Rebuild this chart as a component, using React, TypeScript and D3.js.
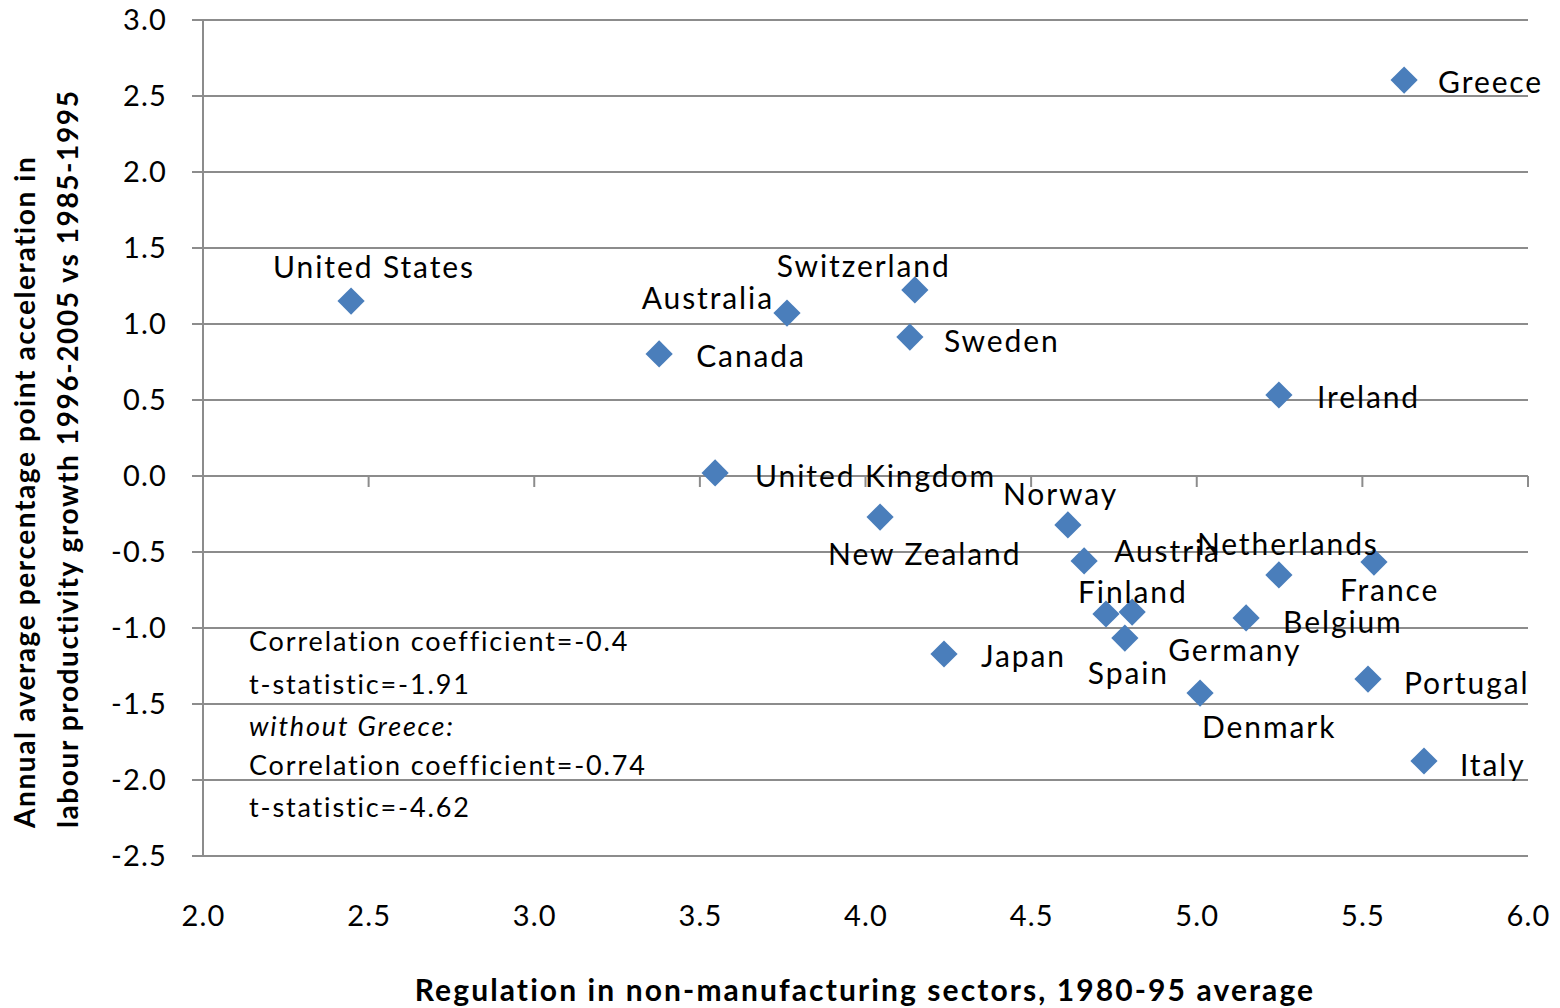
import React from "react";
import * as d3 from "d3";

const countries = [
  "Greece", "United States", "Australia", "Switzerland", "Canada", "Sweden", "Ireland",
  "United Kingdom", "New Zealand", "Norway", "Austria", "Netherlands", "France", "Finland",
  "Germany", "Spain", "Belgium", "Japan", "Denmark", "Portugal", "Italy",
];
const regulation = [
  5.626, 2.447, 3.763, 4.149, 3.377, 4.134, 5.248,
  3.546, 4.044, 4.611, 4.66, 5.248, 5.535, 4.726,
  4.805, 4.783, 5.149, 4.237, 5.01, 5.517, 5.686,
];
const acceleration = [
  2.605, 1.151, 1.072, 1.224, 0.803, 0.914, 0.533,
  0.02, -0.27, -0.322, -0.559, -0.651, -0.566, -0.908,
  -0.895, -1.066, -0.934, -1.171, -1.428, -1.336, -1.875,
];
const xTicks = [2.0, 2.5, 3.0, 3.5, 4.0, 4.5, 5.0, 5.5, 6.0];
const yTicks = [3.0, 2.5, 2.0, 1.5, 1.0, 0.5, 0.0, -0.5, -1.0, -1.5, -2.0, -2.5];
const annotationLines = [
  "Correlation coefficient=-0.4",
  "t-statistic=-1.91",
  "without Greece:",
  "Correlation coefficient=-0.74",
  "t-statistic=-4.62",
];
const xTitle = "Regulation in non-manufacturing  sectors, 1980-95 average";
const yTitleLines = [
  "Annual average percentage  point acceleration in",
  "labour productivity  growth 1996-2005 vs 1985-1995",
];

// label layout (pixel offsets from the marker), start/end anchors
const labelLayout: [number, number, string][] = [
  [34, 2, "start"], [-78, -34, "start"], [-13, -15, "end"], [-138, -23, "start"],
  [37, 3, "start"], [34, 4, "start"], [38, 3, "start"],
  [40, 4, "start"], [-52, 37, "start"], [-65, -30, "start"], [30, -9, "start"],
  [-82, -30, "start"], [-34, 28, "start"], [-28, -22, "start"],
  [36, 38, "start"], [-37, 35, "start"], [37, 5, "start"], [37, 3, "start"],
  [2, 34, "start"], [36, 4, "start"], [36, 4, "start"],
];

const W = 1560;
const H = 1008;
const FONT = "Lato, 'Open Sans', sans-serif";
const GRID = "#8c8c8c";
const BLUE = "#4A7EBB";

const locale = d3.formatLocale({
  decimal: ".",
  thousands: ",",
  grouping: [3],
  currency: ["", ""],
  minus: "-",
});

export default function App() {
  const x = d3.scaleLinear().domain([2, 6]).range([203, 1528]);
  const y = d3.scaleLinear().domain([-2.5, 3]).range([856, 20]);
  const diamond = d3.symbol().type(d3.symbolSquare).size(370)();
  const fmt = locale.format(".1f");

  return (
    <svg
      width={W}
      height={H}
      style={{ position: "absolute", left: 0, top: 0, background: "#fff", whiteSpace: "pre" }}
      fontFamily={FONT}
    >
      {/* gridlines */}
      {yTicks.map((t) => (
        <line
          key={"g" + t}
          x1={t === -2.5 ? 192 : x(2)}
          x2={x(6)}
          y1={y(t)}
          y2={y(t)}
          stroke={GRID}
          strokeWidth={2}
        />
      ))}
      {/* y axis */}
      <line x1={x(2)} x2={x(2)} y1={y(3)} y2={y(-2.5)} stroke={GRID} strokeWidth={2} />
      {yTicks.map((t) => (
        <line key={"yt" + t} x1={192} x2={x(2)} y1={y(t)} y2={y(t)} stroke={GRID} strokeWidth={2} />
      ))}
      {/* x axis at zero */}
      <line x1={192} x2={x(6)} y1={y(0)} y2={y(0)} stroke={GRID} strokeWidth={2} />
      {xTicks.map((t) => (
        <line key={"xt" + t} x1={x(t)} x2={x(t)} y1={y(0)} y2={y(0) + 11} stroke={GRID} strokeWidth={2} />
      ))}
      {/* tick labels */}
      {yTicks.map((t) => (
        <text key={"yl" + t} x={167} y={y(t)} dy="0.35em" textAnchor="end" fontSize={29} letterSpacing={1.2} fill="#000">
          {fmt(t)}
        </text>
      ))}
      {xTicks.map((t) => (
        <text key={"xl" + t} x={x(t) + 0.6} y={916} dy="0.35em" textAnchor="middle" fontSize={29} letterSpacing={1.2} fill="#000">
          {fmt(t)}
        </text>
      ))}
      {/* markers */}
      {countries.map((c, i) => (
        <path
          key={"m" + c}
          d={diamond}
          fill={BLUE}
          transform={`translate(${x(regulation[i])},${y(acceleration[i])}) rotate(45)`}
        />
      ))}
      {/* labels */}
      {countries.map((c, i) => (
        <text
          key={"l" + c}
          x={x(regulation[i]) + labelLayout[i][0]}
          y={y(acceleration[i]) + labelLayout[i][1]}
          dy="0.35em"
          textAnchor={labelLayout[i][2] as any}
          fontSize={30}
          letterSpacing={1.9}
          fill="#000"
        >
          {c}
        </text>
      ))}
      {/* annotation */}
      {annotationLines.map((s, i) => (
        <text
          key={"a" + i}
          x={249}
          y={[642, 685, 727, 766, 808][i]}
          dy="0.35em"
          fontSize={27}
          letterSpacing={1.85}
          fontStyle={i === 2 ? "italic" : "normal"}
          fill="#000"
        >
          {s}
        </text>
      ))}
      {/* axis titles */}
      <text x={865} y={990} dy="0.35em" textAnchor="middle" fontSize={30} letterSpacing={2.1} fontWeight="bold" fill="#000">
        {xTitle}
      </text>
      {yTitleLines.map((s, i) => (
        <text
          key={"ytt" + i}
          transform={`translate(${25 + i * 43},828) rotate(-90)`}
          dy="0.35em"
          textAnchor="start"
          fontSize={28}
          letterSpacing={1.6}
          fontWeight="bold"
          fill="#000"
        >
          {s}
        </text>
      ))}
    </svg>
  );
}
